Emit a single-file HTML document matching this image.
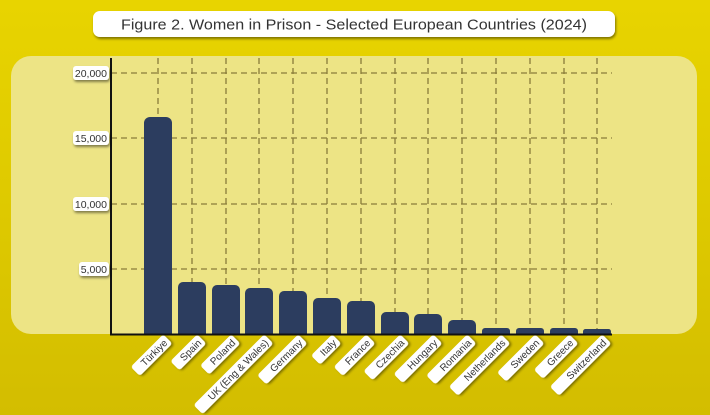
<!DOCTYPE html>
<html><head><style>html,body{margin:0;padding:0;width:710px;height:415px;overflow:hidden}</style></head>
<body>
<svg width="710" height="415" xmlns="http://www.w3.org/2000/svg" font-family="Liberation Sans, sans-serif">
<defs>
<linearGradient id="bg" x1="0" y1="0" x2="0" y2="1">
<stop offset="0" stop-color="#e8d400"/><stop offset="0.6" stop-color="#dcc700"/><stop offset="1" stop-color="#d3bd00"/>
</linearGradient>
<filter id="sh" x="-20%" y="-50%" width="140%" height="200%"><feDropShadow dx="1" dy="2" stdDeviation="1.2" flood-color="#000" flood-opacity="0.45"/></filter>
</defs>
<rect width="710" height="415" fill="url(#bg)"/>
<rect x="11" y="56" width="686" height="278" rx="20" fill="#ede485"/>
<rect x="93" y="11" width="522" height="26" rx="7" fill="#fff" filter="url(#sh)"/>
<text x="354" y="29.5" font-size="15" fill="#333" text-anchor="middle" textLength="466" lengthAdjust="spacingAndGlyphs">Figure 2. Women in Prison - Selected European Countries (2024)</text>
<g stroke="#8a7c3a" stroke-width="1.3" stroke-dasharray="6,4" fill="none">
<path d="M111 73H612M111 138H612M111 204H612M111 269H612"/>
<path d="M158 58V334M192 58V334M226 58V334M259 58V334M293 58V334M327 58V334M361 58V334M395 58V334M428 58V334M462 58V334M496 58V334M530 58V334M564 58V334M597 58V334"/>
</g>
<g fill="#2c3d5f">
<rect x="144" y="117" width="28" height="217" rx="6"/>
<rect x="178" y="282" width="28" height="52" rx="5"/>
<rect x="212" y="285" width="28" height="49" rx="5"/>
<rect x="245" y="288" width="28" height="46" rx="5"/>
<rect x="279" y="291" width="28" height="43" rx="5"/>
<rect x="313" y="298" width="28" height="36" rx="5"/>
<rect x="347" y="301" width="28" height="33" rx="5"/>
<rect x="381" y="312" width="28" height="22" rx="5"/>
<rect x="414" y="314" width="28" height="20" rx="5"/>
<rect x="448" y="320" width="28" height="14" rx="5"/>
<rect x="482" y="328" width="28" height="6" rx="3"/>
<rect x="516" y="328" width="28" height="6" rx="3"/>
<rect x="550" y="328" width="28" height="6" rx="3"/>
<rect x="583" y="329" width="28" height="5" rx="2.5"/>
<rect x="144" y="328" width="28" height="6"/>
<rect x="178" y="328" width="28" height="6"/>
<rect x="212" y="328" width="28" height="6"/>
<rect x="245" y="328" width="28" height="6"/>
<rect x="279" y="328" width="28" height="6"/>
<rect x="313" y="328" width="28" height="6"/>
<rect x="347" y="328" width="28" height="6"/>
<rect x="381" y="328" width="28" height="6"/>
<rect x="414" y="328" width="28" height="6"/>
<rect x="448" y="328" width="28" height="6"/>
<rect x="482" y="331" width="28" height="3"/>
<rect x="516" y="331" width="28" height="3"/>
<rect x="550" y="331" width="28" height="3"/>
<rect x="583" y="331.5" width="28" height="2.5"/>
</g>
<path d="M111 58V334.5H612" stroke="#111" stroke-width="2" fill="none"/>
<g font-size="10.5" fill="#333" text-anchor="end">
<rect x="73" y="66" width="36" height="14" rx="3" fill="#fff" filter="url(#sh)"/><text x="107" y="77">20,000</text>
<rect x="73" y="131" width="36" height="14" rx="3" fill="#fff" filter="url(#sh)"/><text x="107" y="142">15,000</text>
<rect x="73" y="197" width="36" height="14" rx="3" fill="#fff" filter="url(#sh)"/><text x="107" y="208">10,000</text>
<rect x="79" y="262" width="30" height="14" rx="3" fill="#fff" filter="url(#sh)"/><text x="107" y="273">5,000</text>
</g>
<g font-size="10" fill="#333" text-anchor="end">
<g transform="translate(166,340) rotate(-45)"><rect x="-44" y="-6" width="46" height="13" rx="3" fill="#fff" filter="url(#sh)"/><text x="-1" y="4">Türkiye</text></g>
<g transform="translate(200,340) rotate(-45)"><rect x="-36" y="-6" width="38" height="13" rx="3" fill="#fff" filter="url(#sh)"/><text x="-1" y="4">Spain</text></g>
<g transform="translate(234,340) rotate(-45)"><rect x="-42" y="-6" width="44" height="13" rx="3" fill="#fff" filter="url(#sh)"/><text x="-1" y="4">Poland</text></g>
<g transform="translate(267,340) rotate(-45)"><rect x="-98" y="-6" width="100" height="13" rx="3" fill="#fff" filter="url(#sh)"/><text x="-1" y="4">UK (Eng &amp; Wales)</text></g>
<g transform="translate(301,340) rotate(-45)"><rect x="-56" y="-6" width="58" height="13" rx="3" fill="#fff" filter="url(#sh)"/><text x="-1" y="4">Germany</text></g>
<g transform="translate(335,340) rotate(-45)"><rect x="-28" y="-6" width="30" height="13" rx="3" fill="#fff" filter="url(#sh)"/><text x="-1" y="4">Italy</text></g>
<g transform="translate(369,340) rotate(-45)"><rect x="-44" y="-6" width="46" height="13" rx="3" fill="#fff" filter="url(#sh)"/><text x="-1" y="4">France</text></g>
<g transform="translate(403,340) rotate(-45)"><rect x="-50" y="-6" width="52" height="13" rx="3" fill="#fff" filter="url(#sh)"/><text x="-1" y="4">Czechia</text></g>
<g transform="translate(436,340) rotate(-45)"><rect x="-54" y="-6" width="56" height="13" rx="3" fill="#fff" filter="url(#sh)"/><text x="-1" y="4">Hungary</text></g>
<g transform="translate(470,340) rotate(-45)"><rect x="-56" y="-6" width="58" height="13" rx="3" fill="#fff" filter="url(#sh)"/><text x="-1" y="4">Romania</text></g>
<g transform="translate(504,340) rotate(-45)"><rect x="-72" y="-6" width="74" height="13" rx="3" fill="#fff" filter="url(#sh)"/><text x="-1" y="4">Netherlands</text></g>
<g transform="translate(538,340) rotate(-45)"><rect x="-52" y="-6" width="54" height="13" rx="3" fill="#fff" filter="url(#sh)"/><text x="-1" y="4">Sweden</text></g>
<g transform="translate(572,340) rotate(-45)"><rect x="-48" y="-6" width="50" height="13" rx="3" fill="#fff" filter="url(#sh)"/><text x="-1" y="4">Greece</text></g>
<g transform="translate(605,340) rotate(-45)"><rect x="-72" y="-6" width="74" height="13" rx="3" fill="#fff" filter="url(#sh)"/><text x="-1" y="4">Switzerland</text></g>
</g>
</svg>
</body></html>
